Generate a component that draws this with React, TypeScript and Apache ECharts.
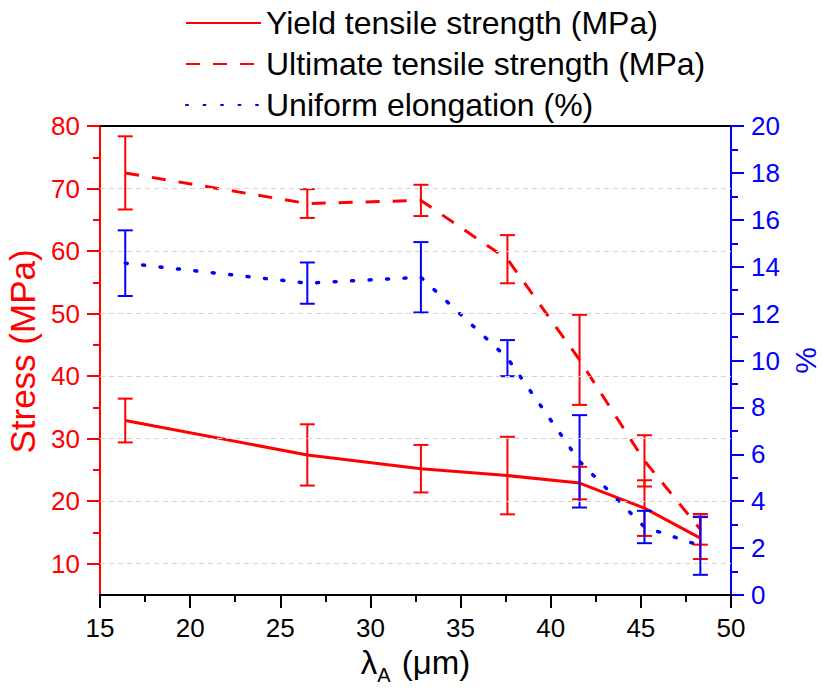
import React, { useEffect, useRef } from 'react';
import * as echarts from 'echarts';

const lambdaA = [16.4, 26.5, 32.8, 37.6, 41.6, 45.2, 48.3];
const yieldStrength = [32.9, 27.4, 25.2, 24.1, 22.9, 18.9, 14.1];
const yieldErr = [3.5, 4.9, 3.8, 6.2, 2.6, 4.45, 3.35];
const ultimateStrength = [72.5, 67.6, 68.1, 58.7, 42.6, 26.45, 15.5];
const ultimateErr = [5.85, 2.3, 2.5, 3.85, 7.2, 4.1, 2.45];
const elongation = [14.15, 13.3, 13.55, 10.1, 5.7, 2.9, 2.1];
const elongationErr = [1.4, 0.88, 1.5, 0.77, 1.97, 0.69, 1.24];

const stressLabelTicks = [10, 20, 30, 40, 50, 60, 70, 80];
const stressMinorTicks = [15, 25, 35, 45, 55, 65, 75];
const stressGridLines = [10, 20, 30, 40, 50, 60, 70];

const RED = '#ff0000';
const BLUE = '#0000ff';
const FONT = '"Liberation Sans", Arial, sans-serif';

export default function App() {
  const ref = useRef<HTMLDivElement>(null);

  useEffect(() => {
    const chart = echarts.init(ref.current!, null, { renderer: 'svg' });

    const errorBar = (name: string, color: string, values: number[], errs: number[], yAxisIndex: number) => ({
      type: 'custom',
      name,
      xAxisIndex: 0,
      yAxisIndex,
      silent: true,
      z: 4,
      data: lambdaA.map((x, i) => [x, values[i] - errs[i], values[i] + errs[i]]),
      encode: { x: 0, y: [1, 2] },
      renderItem: (params: any, api: any) => {
        const x = api.value(0);
        const lo = api.coord([x, api.value(1)]);
        const hi = api.coord([x, api.value(2)]);
        const w = 7.5;
        const style = { stroke: color, lineWidth: 2, fill: 'none' };
        return {
          type: 'group',
          children: [
            { type: 'line', shape: { x1: lo[0], y1: lo[1], x2: hi[0], y2: hi[1] }, style },
            { type: 'line', shape: { x1: lo[0] - w, y1: lo[1], x2: lo[0] + w, y2: lo[1] }, style },
            { type: 'line', shape: { x1: hi[0] - w, y1: hi[1], x2: hi[0] + w, y2: hi[1] }, style },
          ],
        };
      },
    });

    chart.setOption({
      animation: false,
      backgroundColor: '#ffffff',
      textStyle: { fontFamily: FONT },
      grid: { left: 100, right: 91, top: 126, bottom: 93, containLabel: false, outerBoundsMode: 'none' },
      legend: {
        orient: 'vertical',
        left: 180,
        top: 1,
        itemWidth: 75,
        itemHeight: 14,
        itemGap: 7,
        itemStyle: { opacity: 0 },
        textStyle: { fontFamily: FONT, fontSize: 32, color: '#000', lineHeight: 34 },
        data: ['Yield tensile strength (MPa)', 'Ultimate tensile strength (MPa)', 'Uniform elongation (%)'],
      },
      xAxis: [
        {
          type: 'value',
          min: 15,
          max: 50,
          interval: 5,
          position: 'bottom',
          name: '{a|λ}{s|A}{a| (μm)}',
          nameLocation: 'middle',
          nameGap: 50,
          nameTextStyle: {
            rich: {
              a: { fontFamily: FONT, fontSize: 33, color: '#000', verticalAlign: 'top', lineHeight: 38 },
              s: { fontFamily: FONT, fontSize: 20, color: '#000', verticalAlign: 'top', padding: [19, 2, 0, 0], lineHeight: 22 },
            },
          },
          axisLine: { show: true, onZero: false, lineStyle: { color: '#000', width: 2 } },
          axisTick: { show: true, inside: false, length: 13, lineStyle: { color: '#000', width: 2 } },
          minorTick: { show: true, splitNumber: 2, length: 7, lineStyle: { color: '#000', width: 2 } },
          axisLabel: { color: '#000', fontSize: 26, fontFamily: FONT, margin: 20 },
          splitLine: { show: false },
        },
        {
          type: 'value',
          min: 15,
          max: 50,
          position: 'top',
          axisLine: { show: true, onZero: false, lineStyle: { color: '#000', width: 2 } },
          axisTick: { show: false },
          axisLabel: { show: false },
          splitLine: { show: false },
        },
      ],
      yAxis: [
        {
          type: 'value',
          min: 5,
          max: 80,
          position: 'left',
          name: 'Stress (MPa)',
          nameLocation: 'middle',
          nameRotate: 90,
          nameGap: 57,
          nameTextStyle: { color: RED, fontSize: 35, fontFamily: FONT, padding: [0, 0, 0, 18] },
          axisLine: { show: true, onZero: false, lineStyle: { color: RED, width: 2 } },
          axisTick: { show: true, length: 13, customValues: stressLabelTicks, lineStyle: { color: RED, width: 2 } },
          axisLabel: { color: RED, fontSize: 26, fontFamily: FONT, margin: 20, customValues: stressLabelTicks },
          splitLine: { show: false },
        },
        {
          type: 'value',
          min: 0,
          max: 20,
          interval: 2,
          position: 'right',
          name: '%',
          nameLocation: 'middle',
          nameRotate: 90,
          nameGap: 57,
          nameTextStyle: { color: BLUE, fontSize: 30, fontFamily: FONT },
          axisLine: { show: true, onZero: false, lineStyle: { color: BLUE, width: 2 } },
          axisTick: { show: true, length: 13, lineStyle: { color: BLUE, width: 2 } },
          minorTick: { show: true, splitNumber: 2, length: 7, lineStyle: { color: BLUE, width: 2 } },
          axisLabel: { color: BLUE, fontSize: 26, fontFamily: FONT, margin: 20 },
          splitLine: { show: false },
        },
        {
          type: 'value',
          min: 5,
          max: 80,
          position: 'left',
          axisLine: { show: false },
          axisTick: { show: true, length: 7, customValues: stressMinorTicks, lineStyle: { color: RED, width: 2 } },
          axisLabel: { show: false },
          splitLine: { show: false },
        },
      ],
      series: [
        {
          type: 'line',
          name: 'grid',
          yAxisIndex: 0,
          data: [],
          silent: true,
          z: 1,
          markLine: {
            silent: true,
            symbol: 'none',
            label: { show: false },
            lineStyle: { type: [5, 4], color: '#d4d4d4', width: 1 },
            data: stressGridLines.map((v) => ({ yAxis: v })),
          },
        },
        {
          type: 'line',
          name: 'Yield tensile strength (MPa)',
          yAxisIndex: 0,
          symbol: 'none',
          z: 3,
          lineStyle: { color: RED, width: 3 },
          itemStyle: { color: RED },
          data: lambdaA.map((x, i) => [x, yieldStrength[i]]),
        },
        {
          type: 'line',
          name: 'Ultimate tensile strength (MPa)',
          yAxisIndex: 0,
          symbol: 'none',
          z: 3,
          lineStyle: { color: RED, width: 3, type: [14, 13] },
          itemStyle: { color: RED },
          data: lambdaA.map((x, i) => [x, ultimateStrength[i]]),
        },
        {
          type: 'line',
          name: 'Uniform elongation (%)',
          yAxisIndex: 1,
          symbol: 'none',
          z: 3,
          lineStyle: { color: BLUE, width: 3.5, type: [2, 15.5], cap: 'round' },
          itemStyle: { color: BLUE },
          data: lambdaA.map((x, i) => [x, elongation[i]]),
        },
        errorBar('yieldErr', RED, yieldStrength, yieldErr, 0),
        errorBar('utsErr', RED, ultimateStrength, ultimateErr, 0),
        errorBar('elongErr', BLUE, elongation, elongationErr, 1),
      ],
    });

    return () => chart.dispose();
  }, []);

  return (
    <div
      ref={ref}
      style={{ position: 'absolute', left: 0, top: 0, width: 822, height: 688, background: '#fff' }}
    />
  );
}
